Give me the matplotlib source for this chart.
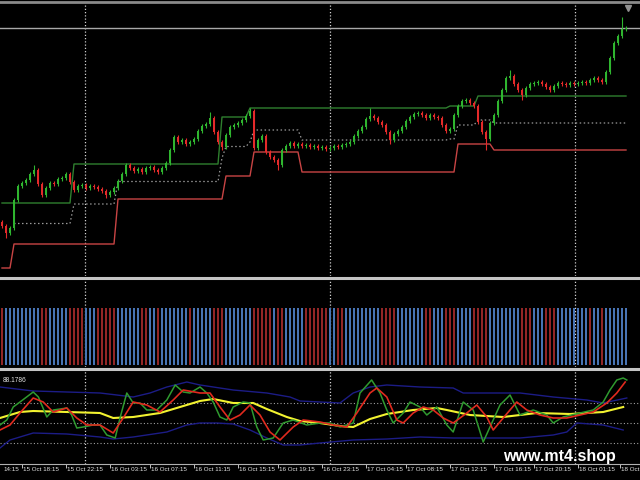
import matplotlib
matplotlib.use("Agg")
import matplotlib.pyplot as plt
from matplotlib.lines import Line2D
from matplotlib.transforms import blended_transform_factory
import numpy as np

BULL = "#2fb52f"
BEAR = "#e42a2a"
HIST_RED = "#922626"
HIST_BLUE = "#4874b4"

# candle closes (one per bar), first open
open0 = 78
close = [74, 67, 72, 100, 114, 117, 120, 126, 130, 116,
         105, 112, 117, 116, 121, 122, 126, 118, 110, 114,
         115, 112, 114, 113, 111, 109, 105, 108, 112, 119,
         126, 135, 132, 129, 131, 128, 132, 133, 130, 128,
         132, 137, 150, 163, 158, 160, 156, 158, 161, 169,
         174, 176, 182, 168, 158, 153, 165, 173, 175, 177,
         180, 184, 189, 152, 160, 164, 148, 143, 140, 135,
         150, 154, 157, 154, 156, 154, 155, 153, 154, 152,
         153, 151, 152, 154, 153, 155, 156, 158, 164, 169,
         173, 181, 184, 182, 178, 175, 168, 160, 166, 169,
         173, 179, 183, 186, 187, 185, 182, 185, 183, 182,
         175, 169, 171, 185, 194, 199, 200, 197, 194, 178,
         168, 161, 177, 185, 199, 210, 222, 224, 216, 210,
         205, 212, 216, 217, 218, 216, 213, 210, 214, 217,
         216, 215, 217, 216, 217, 218, 217, 220, 222, 220,
         218, 228, 242, 257, 264, 271, 272]
WICK = 2
spike_hi = {8: 135, 52: 188, 62: 192, 92: 192, 127: 230, 155: 283}
spike_lo = {1: 62, 26: 102, 55: 150, 69: 130, 97: 156, 121: 150, 130: 200}

# price channel as (level, bars) runs
upper_runs = [(97, 18), (136, 37), (183, 7), (192, 50), (194, 7), (204, 38)]
lower_runs = [(32, 3), (56, 26), (101, 27), (124, 7), (148, 12), (128, 39), (156, 9), (150, 34)]

# trend histogram colour runs
hist_runs = [("r", 1), ("b", 9), ("r", 2), ("b", 5), ("r", 4), ("b", 3), ("r", 5), ("b", 6),
             ("r", 2), ("b", 2), ("r", 1), ("b", 7), ("r", 1), ("b", 5), ("r", 3), ("b", 7),
             ("r", 5), ("b", 1), ("r", 2), ("b", 5), ("r", 6), ("b", 2), ("r", 2), ("b", 9),
             ("r", 4), ("b", 7), ("r", 2), ("b", 3), ("r", 3), ("b", 4), ("r", 4), ("b", 8),
             ("r", 3), ("b", 3), ("r", 3), ("b", 8), ("r", 1), ("b", 2), ("r", 1), ("b", 6)]

# TDI lines (bar position, value)
rsi_x = [-0.5, 1.2, 2.8, 4.5, 7.8, 9.1, 11.2, 12.8, 16.2, 17.4, 18.7, 20.3, 22.8, 24.5, 26.2,
         28.3, 29.5, 31.2, 32.8, 34.5, 36.2, 38.7, 41.2, 43.3, 45.3, 47.0, 49.5, 51.2, 52.8,
         54.5, 56.2, 57.8, 60.3, 62.0, 63.7, 65.3, 67.8, 70.3, 72.8, 76.2, 79.5, 82.0, 84.5,
         87.8, 89.5, 92.4, 94.5, 96.2, 97.8, 100.3, 102.0, 104.5, 106.2, 108.7, 111.2, 112.8,
         115.3, 117.8, 120.3, 122.0, 124.5, 127.0, 129.5, 132.8, 136.2, 137.8, 140.3, 144.5,
         147.8, 150.3, 152.0, 153.7, 155.3, 156.2]
rsi_v = [48.2, 52.7, 64.4, 68.9, 77.9, 73.4, 55.4, 61.7, 63.5, 57.2, 45.5, 46.4, 48.2, 48.2, 39.2,
         36.5, 54.5, 77.0, 68.0, 68.0, 61.7, 61.7, 70.7, 84.2, 77.9, 77.0, 82.4, 77.0, 68.9,
         55.4, 52.7, 64.4, 68.9, 68.0, 46.4, 34.7, 36.5, 50.0, 52.7, 48.2, 50.0, 50.0, 46.4,
         50.0, 77.0, 88.7, 77.0, 61.7, 50.0, 59.0, 68.9, 64.4, 57.2, 64.4, 48.2, 41.9,
         68.9, 61.7, 32.9, 46.4, 66.2, 75.2, 57.2, 61.7, 57.2, 50.0, 55.4, 59.0,
         61.7, 68.9, 79.7, 88.7, 90.5, 88.7]

sig_x = [-0.5, 2.0, 4.5, 7.8, 10.3, 12.8, 16.2, 18.7, 21.2, 24.5, 27.8, 30.3, 32.8, 36.2, 39.5,
         42.8, 45.3, 49.5, 52.0, 54.5, 57.0, 59.5, 62.0, 64.5, 67.0, 69.5, 72.8, 75.3, 79.5,
         82.8, 86.2, 88.7, 92.0, 93.7, 96.2, 98.7, 100.3, 102.8, 105.3, 107.8, 110.3, 112.8,
         116.2, 118.7, 121.2, 122.8, 125.3, 128.7, 131.2, 134.5, 137.8, 141.2, 144.5, 147.8,
         151.2, 153.7, 155.8]
sig_v = [43.7, 48.2, 59.0, 72.5, 68.9, 59.9, 63.5, 54.5, 48.2, 48.2, 41.0, 54.5, 68.9, 66.2, 59.9,
         70.7, 79.7, 77.0, 77.0, 64.4, 52.7, 57.2, 66.2, 57.2, 41.9, 34.7, 46.4, 52.7, 50.9,
         48.2, 46.4, 59.0, 77.0, 81.5, 73.4, 52.7, 50.0, 59.0, 64.4, 61.7, 54.5, 50.0,
         59.0, 66.2, 55.4, 43.7, 54.5, 68.9, 61.7, 57.2, 54.5, 54.5, 57.2, 59.9,
         68.0, 77.0, 86.9]

base_x = [-0.5, 2.0, 4.5, 7.8, 16.2, 24.5, 27.8, 32.8, 39.5, 44.5, 49.5, 52.8, 57.8, 62.8, 66.2,
          71.2, 74.5, 79.5, 84.5, 87.8, 92.0, 96.2, 102.8, 108.7, 111.2, 117.0, 125.3, 133.7,
          142.0, 150.3, 155.3]
base_v = [54.5, 57.2, 59.9, 60.8, 59.9, 59.0, 54.5, 55.4, 59.0, 64.4, 69.8, 71.6, 68.0, 68.0, 62.6,
          55.4, 51.8, 50.0, 47.3, 46.4, 53.6, 58.1, 61.7, 63.5, 61.7, 57.2, 55.4, 59.0,
          58.1, 59.9, 64.4]

band_up_x = [-0.5, 7.8, 16.2, 24.5, 28.7, 32.8, 37.0, 41.2, 46.2, 49.5, 57.8, 66.2, 72.0, 74.5,
             79.5, 84.5, 87.8, 92.0, 96.2, 104.5, 112.8, 115.3, 129.5, 137.8, 146.2, 150.3, 156.2]
band_up_v = [82.4, 78.8, 77.9, 77.0, 75.2, 73.4, 77.0, 82.4, 86.9, 84.2, 79.7, 77.0, 73.4, 69.8,
             68.9, 68.0, 77.0, 82.4, 84.2, 82.4, 81.5, 77.0, 77.0, 73.4, 70.7, 68.0, 72.5]

band_lo_x = [-0.5, 2.0, 7.8, 16.2, 24.5, 27.8, 32.8, 41.2, 46.2, 49.5, 53.7, 57.8, 62.0, 66.2,
             70.3, 74.5, 79.5, 87.8, 96.2, 104.5, 112.8, 129.5, 137.8, 141.2, 143.7, 150.3, 155.3]
band_lo_v = [27.5, 34.7, 41.0, 40.1, 37.4, 35.6, 37.4, 41.9, 48.2, 50.0, 50.0, 49.1, 43.7, 36.5,
             30.2, 30.2, 32.0, 34.7, 35.6, 37.4, 36.5, 36.5, 39.2, 41.9, 50.0, 48.2, 43.7]
tdi_levels = [68, 50, 32]

day_breaks = [20.75, 82.0, 143.25]
tick_pos = [5, 16, 27, 37, 48, 59, 69, 80, 91, 101, 112, 123, 133, 144, 154.5]
label_pos = [0, 5, 16, 27, 37, 48, 59, 69, 80, 91, 101, 112, 123, 133, 144, 154.5]
tick_labels = ["14:15", "15 Oct 18:15", "15 Oct 22:15", "16 Oct 03:15", "16 Oct 07:15",
               "16 Oct 11:15", "16 Oct 15:15", "16 Oct 19:15", "16 Oct 23:15", "17 Oct 04:15",
               "17 Oct 08:15", "17 Oct 12:15", "17 Oct 16:15", "17 Oct 20:15", "18 Oct 01:15",
               "18 Oct"]

plt.rcParams["font.family"] = ["Liberation Sans", "DejaVu Sans"]

fig = plt.figure(figsize=(6.4, 4.8), dpi=100, facecolor="black")
H = 480.0
ax_main = fig.add_axes([0, 1 - 276 / H, 1, 272 / H])
ax_hist = fig.add_axes([0, 1 - 367 / H, 1, 88 / H])
ax_osc = fig.add_axes([0, 1 - 464 / H, 1, 94 / H])

for ax in (ax_main, ax_hist, ax_osc):
    ax.set_facecolor("black")
    ax.set_xlim(-0.5, 159.5)
    for s in ax.spines.values():
        s.set_visible(False)
    ax.set_yticks([])
    for xb in day_breaks:
        ax.axvline(xb, color="#d0d0d0", lw=0.9, ls=(0, (1, 1.6)), zorder=0)

# ---- main panel: candles + channel
closes = np.array(close, dtype=float)
opens = np.r_[open0, closes[:-1]]
highs = np.maximum(opens, closes) + WICK
lows = np.minimum(opens, closes) - WICK
for i, v in spike_hi.items():
    highs[i] = v
for i, v in spike_lo.items():
    lows[i] = v
idx = np.arange(len(closes))
col = np.where(closes >= opens, BULL, BEAR)

upper = np.repeat([v for v, n in upper_runs], [n for v, n in upper_runs]).astype(float)
lower = np.repeat([v for v, n in lower_runs], [n for v, n in lower_runs]).astype(float)
middle = (upper + lower) / 2

ax_main.set_ylim(24, 296)
ax_main.set_xticks([])
ax_main.axhline(closes[-1], color="#a8a8a8", lw=1.0, zorder=1)
ax_main.plot(idx, upper, color="#2f7f2f", lw=1.0, zorder=2)
ax_main.plot(idx, lower, color="#c84444", lw=1.0, zorder=2)
ax_main.plot(idx[3:], middle[3:], color="#9a9a9a", lw=0.9, ls=(0, (1.2, 2)), zorder=2)
ax_main.vlines(idx, lows, highs, colors=col, lw=0.8, zorder=3)
ax_main.bar(idx, np.maximum(np.abs(closes - opens), 0.8), bottom=np.minimum(opens, closes),
            width=0.6, color=col, linewidth=0, zorder=4)
ax_main.plot([0.981], [0.985], marker="v", ms=4, color="#909090",
             transform=ax_main.transAxes, clip_on=False)

# ---- histogram panel
hist_cols = []
for c, n in hist_runs:
    hist_cols += [HIST_RED if c == "r" else HIST_BLUE] * n
ax_hist.set_ylim(-0.035, 1.509)
ax_hist.set_xticks([])
ax_hist.bar(np.arange(len(hist_cols)), np.ones(len(hist_cols)), width=0.62,
            color=hist_cols, linewidth=0, zorder=2)

# ---- TDI panel
ax_osc.set_ylim(13.1, 97.7)
for lv in tdi_levels:
    ax_osc.axhline(lv, color="#a0a0a0", lw=0.8, ls=(0, (1, 2)), zorder=1)
ax_osc.plot(band_up_x, band_up_v, color="#1c1c86", lw=1.0, zorder=2)
ax_osc.plot(band_lo_x, band_lo_v, color="#1c1c86", lw=1.0, zorder=2)
ax_osc.plot(base_x, base_v, color="#f2f230", lw=1.5, zorder=3)
ax_osc.plot(rsi_x, rsi_v, color="#2f9a2f", lw=1.1, zorder=4)
ax_osc.plot(sig_x, sig_v, color="#e02a1e", lw=1.2, zorder=5)
ax_osc.text(0.005, 0.93, "88.1786", transform=ax_osc.transAxes, color="#e0e0e0",
            fontsize=4.8, va="top", ha="left")

ax_osc.spines["bottom"].set_visible(True)
ax_osc.spines["bottom"].set_color("#b0b0b0")
ax_osc.spines["bottom"].set_linewidth(0.8)
ax_osc.set_xticks(tick_pos)
ax_osc.set_xticklabels([])
ax_osc.tick_params(axis="x", direction="out", length=3, width=0.7, color="#c0c0c0")
trans = blended_transform_factory(ax_osc.transData, ax_osc.transAxes)
for xp, txt in zip(label_pos, tick_labels):
    ax_osc.text(xp + 0.3, -0.035, txt, transform=trans, color="#e6e6e6", fontsize=4.5,
                ha="left", va="top", clip_on=False)

# window borders / separators
for y, c, w in [(1.5, "#8a8a8a", 2.0), (277.5, "#c4c4c4", 2.2), (368.5, "#c4c4c4", 2.2)]:
    fig.add_artist(Line2D([0, 1], [1 - y / H, 1 - y / H], color=c, lw=w,
                          transform=fig.transFigure))

fig.text(503 / 640, 1 - 461 / H, "www.mt4.shop", color="white", fontsize=11.5,
         fontweight="bold", ha="left", va="baseline")

fig.savefig("out.png", dpi=100, facecolor="black")
